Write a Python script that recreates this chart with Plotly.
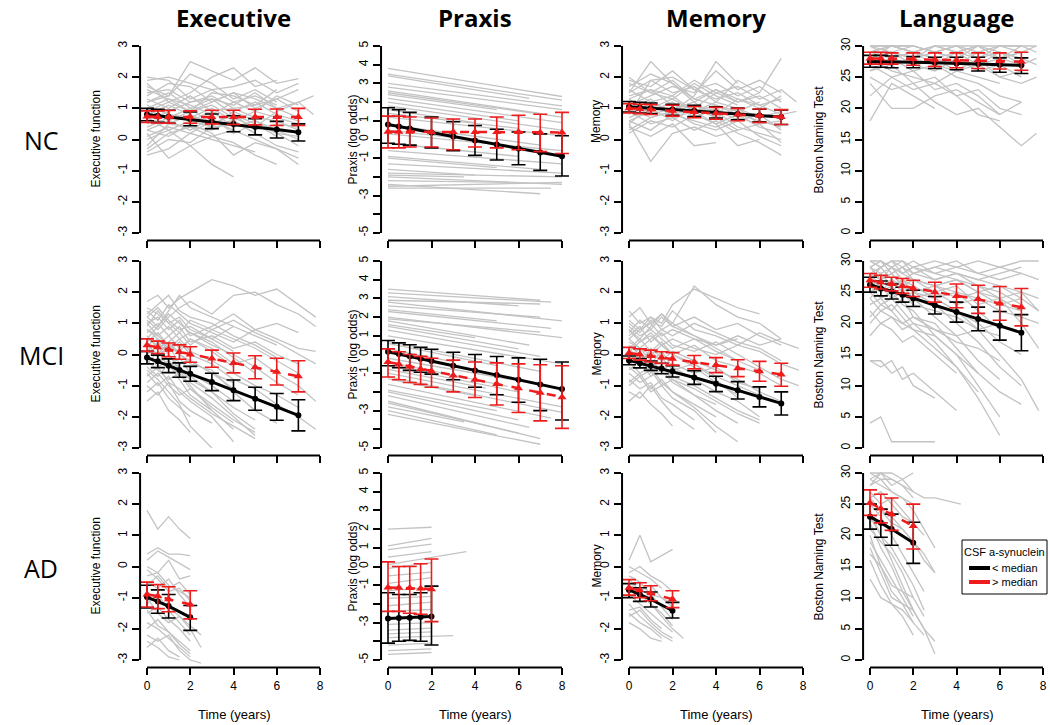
import plotly.graph_objects as go

# ---------------------------------------------------------------- data ----
ROWS = ["NC", "MCI", "AD"]
COLS = ["Executive", "Praxis", "Memory", "Language"]
YTITLES = ["Executive function", "Praxis (log odds)", "Memory", "Boston Naming Test"]
LEGEND_TITLE = "CSF a-synuclein"
LEGEND_LABELS = ["< median", "> median"]
X_TICKS = [0, 2, 4, 6, 8]
X_LABEL = "Time (years)"

EXEC_TICKS = [-3, -2, -1, 0, 1, 2, 3]
EXEC_TICKTEXT = ["-3", "-2", "-1", "0", "1", "2", "3"]
PRAXIS_TICKS = [-5, -4, -3, -2, -1, 0, 1, 2, 3, 4, 5]
PRAXIS_TICKTEXT = ["-5", "", "-3", "", "-1", "0", "1", "2", "3", "4", "5"]
MEMORY_TICKS = [-3, -2, -1, 0, 1, 2, 3]
MEMORY_TICKTEXT = ["-3", "-2", "-1", "0", "1", "2", "3"]
LANG_TICKS = [0, 5, 10, 15, 20, 25, 30]
LANG_TICKTEXT = ["0", "5", "10", "15", "20", "25", "30"]

# visit grids of the individual (grey) trajectories
NC_VISITS = [0, 1, 2, 3, 4, 5, 6, 7, 7.7]
MCI_VISITS = [0, 0.5, 1, 1.5, 2, 3, 4, 5, 6, 7, 7.8]
AD_VISITS = [0, 0.5, 1, 1.5, 2, 2.5, 3, 4.2]

NC_EXEC_GRAY = [
    [1.9, 2.0, 1.8, 1.6, 1.7, 1.9, 1.5, 1.8],
    [1.2, 1.4, 2.5, 2.2, 1.9, 2.3, 1.8, 1.95],
    [0.5, 0.8, 0.6, 0.9, 1.0, 0.7, 0.6, 0.3],
    [-0.5, -0.3, 0.2, 0.0, -0.2, -0.4],
    [0.2, -0.6, -0.2, 0.1, 0.3],
    [1.0, 1.3, 1.1, 0.8, 1.2, 0.9, 1.4, 1.1],
    [0.8, 0.5, 0.4, 0.1, -0.1, -0.5, -0.8],
    [1.5, 1.6, 1.2, 1.4, 1.0, 1.1, 1.3, 0.9],
    [0.0, 0.3, -0.2, -0.8, -1.2],
    [1.8, 1.2, 1.5, 2.0, 2.3, 1.7, 1.9],
    [0.6, 0.9, 1.2, 1.3, 0.8, 0.5, 0.2, -0.2],
    [0.3, 0.1, 0.5, 0.2, -0.5, -0.1, -0.3, -0.6],
    [1.1, 0.8, 0.7, 1.0, 0.6, 0.9, 0.7, 0.5],
    [-0.3, 0.2, 0.4, 0.3, 0.6, 0.2],
    [0.9, 1.2, 0.9, 1.5, 1.4, 1.1, 1.6],
    [1.4, 1.8, 1.7, 1.2, 1.5, 1.3, 1.0, 0.7],
    [0.1, 0.4, 0.2, 0.6, 0.3, 0.0, -0.3, -0.8],
    [0.7, 0.3, 0.6, 0.4, 0.9, 1.2, 0.8, 0.6],
    [2.0, 1.9, 1.3, 1.6, 1.2, 1.4, 1.1],
    [1.3, 1.0, 1.4, 0.9, 0.4, 0.6, 0.2, 0.1],
    [-0.4, 0.0, -0.1, 0.4, 0.5],
    [0.4, 0.7, 1.0, 0.5, 0.8, 0.3, 0.5, 0.4],
    [1.6, 1.3, 0.9, 1.1, 0.7, 0.4, 0.9, 1.2, 1.4],
    [1.0, 0.6, 0.9, 1.2, 1.5, 1.0, 1.3, 1.6],
    [0.3, 0.6, 0.3, 0.7, 0.2, 0.5, 0.1],
    [-0.2, 0.5, 0.8, 0.4, 0.9, 0.6, 0.3, 0.0],
    [1.7, 1.4, 2.1, 1.8, 1.3, 1.6, 1.2],
    [0.8, 1.1, 0.8, 0.5, 0.6, 0.2, -0.2, -0.4],
    [1.2, 1.5, 1.0, 1.3, 1.1, 1.5, 1.0, 1.2, 0.8],
]
NC_MEM_GRAY = [
    [1.5, 2.5, 1.8, 1.2, 1.6, 1.3, 1.0, 1.4],
    [0.5, -0.7, 0.2, 0.4, 0.1, 0.3],
    [1.0, 1.2, 0.9, 1.4, 2.5, 1.8],
    [0.8, 1.9, 1.5, 1.7, 1.2, 1.9, 1.5, 2.6],
    [1.2, 1.0, 1.3, 0.9, 1.1, 0.8, 0.6, 0.4],
    [0.2, 0.6, 0.4, 0.8, 0.5, -0.2, 0.0],
    [1.9, 1.7, 2.2, 1.6, 1.8, 1.4, 1.7, 1.2],
    [0.9, 0.5, 0.7, 0.3, 0.6, 0.2, -0.1, -0.5],
    [1.4, 1.6, 1.1, 1.0, 1.5, 1.2, 1.4, 1.0],
    [0.6, 0.9, 1.2, 0.7, 1.0, 0.6, 0.8, 0.3],
    [1.7, 2.1, 1.8, 1.3, 1.1, 0.9, 1.2],
    [0.4, 0.1, 0.5, -0.2, -0.1],
    [1.1, 1.4, 1.7, 1.5, 2.2, 1.6, 1.9, 1.5],
    [0.7, 1.0, 0.6, 1.1, 0.9, 0.4, 0.2, 0.0],
    [1.3, 0.8, 1.0, 1.2, 0.7, 1.0, 0.5],
    [2.0, 1.5, 1.3, 1.8, 1.4, 1.1],
    [0.3, 0.7, 0.9, 0.5, 0.3, 0.6, 0.1, -0.2],
    [1.6, 1.2, 1.4, 0.9, 1.2, 1.0, 0.7, 0.9],
    [1.0, 0.7, 0.9, 1.1, 0.8, 1.3, 1.1, 0.8, 0.9],
    [0.5, 1.1, 0.8, 0.6, 0.4, 0.7, 0.5, 0.6],
    [1.3, 1.6, 1.4, 1.9, 1.5, 1.7, 1.3, 1.6, 1.2],
    [0.9, 1.3, 0.7, 0.9, 0.5, 0.8, 0.4, 0.2],
    [1.8, 1.5, 1.9, 1.3, 1.6, 1.2, 1.5],
    [0.6, 0.3, 0.8, 1.0, 0.7, 0.3, 0.5, -0.1],
    [1.5, 1.9, 2.0, 1.6, 1.3, 1.5, 1.1, 1.3],
]
NC_LANG_GRAY = [
    [30, 30, 29, 30, 30, 29, 30, 30, 29],
    [29, 30, 30, 29, 28, 30, 29, 28],
    [28, 29, 27, 28, 29, 27, 28, 29],
    [27, 28, 29, 28, 26, 27, 25, 26],
    [30, 29, 28, 30, 29, 30, 28, 27],
    [26, 28, 27, 26, 28, 26, 27, 25],
    [18, 24, 22, 20],
    [25, 23, 24, 21, 19, 20, 17, 14, 16],
    [28, 26, 25, 24, 22, 23, 20, 19],
    [24, 20, 20, 22, 23, 21, 19],
    [29, 28, 26, 27, 25, 24, 22, 21],
    [27, 25, 26, 23, 24, 22, 19, 21],
    [30, 30, 30, 29, 30, 30, 30, 30, 30],
    [29, 29, 28, 29, 30, 28, 29, 27, 28],
    [26, 27, 24, 25, 22, 19, 18],
    [28, 27, 28, 27, 26, 28, 25, 24, 25],
    [22, 25, 23, 24, 26, 25, 24],
    [30, 28, 29, 28, 27, 29, 28, 30],
    [27, 29, 30, 29, 28, 27, 29, 28, 27],
    [29, 30, 29, 30, 29, 28, 30, 29, 30],
    [28, 30, 29, 27, 29, 30, 28, 29],
]
MCI_EXEC_GRAY = [
    [1.7, 1.9, 1.5, 1.8, 2.0, 2.4, 2.2, 1.9, 2.1, 1.6, 1.2],
    [1.2, 0.9, 1.4, 1.9, 1.5, 1.2, 0.9],
    [0.5, 0.3, -0.2, -0.5, -1.0, -1.8, -2.4],
    [-0.5, -0.8, -1.2, -1.6, -2.3, -3.0],
    [0.8, 0.6, 0.9, 0.5, 0.7, 0.3, 0.0, -0.4, -0.9, -1.3],
    [0.0, -0.4, -0.2, -0.7, -0.9, -1.4, -2.0, -2.6],
    [1.0, 1.2, 0.8, 1.1, 0.6, 0.9, 1.3, 0.8, 0.5, 0.2, 0.1],
    [-1.0, -1.3, -0.9, -1.5, -1.8, -2.2],
    [0.3, 0.5, 0.1, 0.4, 0.0, -0.3, -0.8, -1.1, -1.6, -2.0, -2.4],
    [1.4, 1.1, 1.6, 1.3, 1.0, 0.7, 0.4, 0.8, 1.0, 0.7],
    [-0.3, 0.1, -0.4, -0.1, -0.6, -1.0, -1.5],
    [0.6, 0.2, 0.4, 0.0, -0.3, -0.5, -1.2, -1.8, -2.2],
    [-1.5, -1.2, -1.8, -2.1, -2.5],
    [0.9, 1.4, 1.0, 0.7, 1.1, 0.8, 0.5, 0.2, -0.2, -0.6],
    [0.2, -0.1, 0.3, -0.3, -0.2, -0.6, -0.9],
    [-0.7, -0.4, -0.9, -1.1, -1.4, -1.9, -2.3, -2.7],
    [1.1, 0.8, 1.2, 1.5, 1.7, 1.3, 1.9, 2.0, 1.6, 1.3, 0.9],
    [0.4, 0.7, 0.3, 0.1, 0.5, 0.2, -0.3, -0.1, -0.6, -1.0, -1.5],
    [-0.2, -0.5, -0.8, -0.6, -1.1, -1.6, -2.1, -2.5],
    [0.7, 1.0, 0.6, 0.9, 0.4, 0.6, 0.2, 0.4, 0.0, -0.3],
    [-1.2, -0.9, -1.4, -1.7, -2.0],
    [1.5, 1.3, 1.0, 1.2, 0.8, 0.5, 0.9, 0.6, 0.3],
    [0.1, 0.4, 0.0, -0.4, -0.7, -1.2, -1.7, -2.1],
    [-0.4, -0.7, -0.3, -0.8, -1.3, -1.8],
    [0.0, 0.3, 0.6, 0.2, 0.5, 0.1, -0.4],
    [1.3, 1.6, 1.9, 1.4, 1.2, 1.0, 0.6, 0.3, -0.1],
    [0.5, 0.9, 1.3, 1.0, 0.7, 0.4, -0.1, -0.6],
    [-0.9, -0.6, -1.0, -1.3, -1.1, -1.7, -2.2],
    [1.2, 1.5, 1.1, 0.8, 0.9, 0.5, 0.1],
    [-0.1, -0.3, 0.0, -0.5, -0.8, -1.2, -1.9, -2.4],
    [0.8, 0.5, 0.2, 0.5, 0.1, -0.2, -0.6, -1.0, -1.3, -1.7],
    [-0.6, -1.0, -0.7, -1.2, -1.5, -2.0, -2.8],
    [0.3, 0.0, 0.4, 0.7, 0.3, 0.8, 1.1, 0.7, 0.4, 0.0, -0.3],
    [1.0, 0.6, 0.3, 0.0, -0.2, -0.6, -1.1],
]
MCI_MEM_GRAY = [
    [1.4, 1.0, 1.2, 0.8, 1.0, 2.2, 1.6, 1.2, 1.0, 0.5],
    [0.5, 0.8, 1.2, 1.0, 1.6, 2.1, 1.8, 1.5, 1.3],
    [-0.2, -0.6, -0.4, -0.9, -1.2, -1.7, -2.3, -2.8],
    [0.8, 0.4, 0.6, 0.3, 0.0, -0.3, -0.8, -1.4],
    [-0.8, -1.1, -0.9, -1.4, -1.6, -2.1],
    [0.2, 0.5, 0.1, 0.4, 0.0, 0.3, -0.2, -0.4, -0.6, -1.0],
    [1.0, 0.7, 1.1, 0.9, 1.4, 0.8, 0.6, 0.3, 0.7, 0.4, 0.2],
    [-0.5, -0.2, -0.7, -0.5, -0.9, -1.3, -1.6],
    [0.3, 0.0, -0.3, 0.1, -0.4, -0.8, -1.2, -1.5, -2.0],
    [-1.2, -1.4, -1.0, -1.5, -1.9, -2.4],
    [0.6, 0.9, 0.4, 0.7, 0.3, 0.1, 0.4, 0.0, -0.4, -0.8, -1.0],
    [-0.4, -0.7, -0.5, -1.0, -0.8, -1.3, -1.8, -2.2],
    [1.2, 1.5, 1.0, 1.3, 0.9, 1.2, 0.8, 1.0, 0.6, 0.3],
    [0.0, -0.3, 0.2, -0.1, -0.5, -0.3, -0.7, -1.0, -1.3],
    [-0.9, -0.6, -1.1, -0.8, -1.2, -1.6, -2.0],
    [0.4, 0.2, 0.5, 0.8, 0.6, 1.0, 0.7, 0.4, 0.2, -0.2],
    [-0.1, 0.2, -0.2, -0.5, -0.3, -0.6, -0.4, -0.9, -1.1],
    [0.9, 0.6, 0.8, 0.5, 0.2, 0.5, 0.1, -0.2, -0.5],
    [-0.6, -0.9, -0.7, -0.4, -0.8, -1.1, -1.5, -1.9, -2.2],
    [0.1, 0.4, 0.7, 0.3, 0.5, 0.2, 0.0, 0.3, 0.1, -0.3, -0.5],
    [-1.5, -1.2, -1.6, -1.9, -2.3],
    [0.7, 1.1, 0.8, 1.2, 0.9, 0.6, 0.3, 0.5],
    [0.8, 0.5, 0.9, 1.3, 1.0, 0.6, 0.2, -0.2],
    [-0.3, -0.1, -0.6, -0.4, -0.7, -1.0, -1.4, -1.8, -2.1],
    [0.5, 0.2, 0.0, 0.3, 0.0, -0.4, -0.9, -1.3],
    [1.1, 0.8, 1.0, 0.6, 0.8, 0.5, 0.3, 0.6, 0.3, 0.5],
    [-1.0, -0.7, -1.2, -1.0, -1.4, -1.8, -2.5],
    [0.2, -0.2, 0.1, -0.2, 0.1, -0.2, -0.5, -0.8, -1.2, -1.5],
]
MCI_LANG_GRAY = [
    [30, 29, 30, 30, 29, 30, 29, 30, 29, 30, 30],
    [29, 30, 28, 29, 30, 28, 29, 28, 27, 28],
    [28, 27, 29, 28, 27, 26, 27, 25, 26, 24],
    [27, 28, 26, 27, 25, 24, 22, 20, 17, 15],
    [26, 24, 25, 23, 22, 18, 15, 12, 9, 7],
    [25, 26, 24, 25, 23, 22, 21, 19, 20],
    [24, 22, 23, 21, 19, 16, 13, 8, 2],
    [14, 14, 12, 13, 10, 8],
    [14, 13, 14, 11, 12, 9, 6],
    [4, 5, 1, 1, 1, 1],
    [29, 28, 29, 27, 28, 29, 28, 27, 26, 25, 24],
    [28, 29, 27, 26, 27, 25, 26, 23, 24, 22],
    [23, 24, 22, 20, 21, 19, 17, 16, 14],
    [27, 25, 26, 24, 25, 23, 20, 17, 13, 10],
    [22, 20, 21, 19, 20, 19, 18, 19, 18],
    [30, 30, 29, 30, 28, 29, 30, 28, 29, 28, 27],
    [26, 27, 28, 26, 24, 25, 23, 24, 22, 21, 20],
    [21, 23, 22, 24, 21, 20, 16, 12],
    [28, 26, 27, 25, 24, 21, 18, 14, 11],
    [29, 27, 28, 29, 27, 26, 27, 25, 23, 24, 22],
    [25, 23, 24, 22, 20, 17, 13, 9],
    [27, 29, 30, 28, 29, 27, 28, 27, 28, 29],
    [18, 20, 19, 17, 18, 15, 12],
    [24, 26, 25, 27, 26, 24, 25, 22, 19],
    [30, 29, 30, 29, 28, 27, 28, 26, 24, 20, 16],
    [29, 30, 29, 28, 29, 28, 27, 26, 25, 23],
    [26, 25, 27, 25, 26, 24, 22, 19, 15, 11, 6],
    [28, 27, 28, 26, 27, 26, 25, 24, 23, 22],
    [20, 22, 21, 20, 19, 18, 15, 10, 5],
    [27, 26, 27, 26, 25, 26, 24, 25, 24, 25, 22],
]
AD_EXEC_GRAY = [
    [1.8, 1.2, 1.6, 1.2, 0.9],
    [0.4, 0.6, 0.4, 0.4, 0.35],
    [0.2, 0.5, 0.3, 0.1, -0.1],
    [-0.3, -0.2, -0.6, -0.8, -1.0],
    [-0.8, -1.1, -1.3, -1.6, -1.9, -2.2],
    [-1.2, -0.9, -1.4, -1.8, -2.2],
    [-1.8, -2.0, -2.3, -2.6, -2.9],
    [-2.2, -2.4, -2.2, -2.7, -3.0, -3.1],
    [-0.5, -0.7, -0.4, -0.9, -1.3],
    [-1.5, -1.3, -1.7, -2.0, -2.4],
    [-2.6, -2.3, -2.7, -2.9],
    [-0.1, -0.4, -0.8, -0.7, -1.1],
    [-1.0, -1.5, -1.8, -1.6, -2.0, -2.6],
    [-2.0, -1.7, -2.1, -2.5, -2.8],
    [-0.6, -0.3, -0.7, -0.5, -0.9],
    [-1.4, -1.9, -2.1, -2.4, -2.7],
    [0.0, -0.2, 0.2, -0.4, -0.3],
    [-2.4, -2.6, -2.9, -3.0],
]
AD_MEM_GRAY = [
    [0.2, 1.0, 0.15, 0.35, 0.55],
    [0.0, -0.2, -0.4, -0.7],
    [-0.3, -0.5, -0.9, -1.0, -1.2],
    [-0.6, -0.9, -1.2, -1.5, -1.9],
    [-0.9, -1.2, -1.5, -1.8, -2.1],
    [-1.2, -1.6, -1.9, -2.2, -2.4],
    [-1.5, -1.8, -2.0, -2.3],
    [-1.8, -2.0, -2.3, -2.4],
    [-0.4, -0.8, -0.6, -1.0, -1.3],
    [-1.0, -0.8, -1.2, -1.6, -2.0, -2.3],
    [-0.2, 0.0, -0.3, -0.5, -0.8],
    [-1.4, -1.3, -1.7, -2.0],
    [-0.7, -0.5, -0.9, -1.3, -1.7],
    [-1.6, -1.4, -1.8, -2.1, -2.3],
]
AD_LANG_GRAY = [
    [30, 30, 30, 29, 30],
    [29, 30, 28, 29, 27, 26, 26, 25],
    [28, 29, 27, 26, 25],
    [27, 25, 26, 24, 22],
    [26, 24, 22, 21, 19, 17, 14],
    [25, 23, 20, 17, 14, 11],
    [24, 20, 16, 12, 8, 5, 1],
    [23, 20, 18, 15, 12, 8],
    [22, 18, 15, 11, 8, 5, 3],
    [21, 19, 17, 14, 10],
    [20, 15, 11, 9, 6],
    [19, 16, 13, 10, 7],
    [18, 14, 10, 9, 8],
    [17, 15, 12, 11, 10, 7],
    [16, 12, 9, 7, 4],
    [29, 28, 27, 26, 24, 21, 18],
    [30, 29, 29, 28, 27],
    [26, 27, 25, 23, 22, 20],
    [13, 10, 9, 8, 6, 4],
    [28, 30, 29, 28, 26],
    [22, 24, 23, 21, 19, 16, 14],
]
# praxis: individual fitted straight lines [t_start, t_end, y_start, y_end]
NC_PRAXIS_GRAY = [
    [0, 8, 3.8, 2.3], [0, 8, 3.5, 2.1], [0, 6.5, 3.4, 2.2], [0, 8, 2.8, 1.6],
    [0, 7, 2.6, 1.4], [0, 5, 2.4, 1.6], [0, 8, 2.2, 0.9], [0, 6, 2.0, 1.0],
    [0, 8, 1.8, 0.5], [0, 4, 1.6, 0.9], [0, 8, 1.2, 0.2], [0, 7, 0.8, -0.3],
    [0, 3, 0.5, 0.1], [0, 8, 0.3, -0.6], [0, 6, -0.2, -0.9], [0, 8, -0.6, -1.3],
    [0, 5, -1.0, -1.5], [0, 8, -1.3, -1.8], [0, 4, -1.6, -1.9], [0, 8, -1.8, -2.0],
    [0, 6, -2.2, -2.3], [0, 7, -2.4, -2.9], [0, 8, -2.5, -2.3], [0, 3.5, -1.9, -2.0],
    [0, 7.5, -2.6, -2.6], [0, 8, 3.0, 1.8], [0, 8, 2.5, 1.2], [0, 7, -0.9, -1.6],
    [0, 6, 1.4, 0.6], [0, 8, -2.0, -2.4],
]
MCI_PRAXIS_GRAY = [
    [0, 7, 3.5, 2.9], [0, 7.5, 3.3, 2.8], [0, 6, 3.1, 2.6], [0, 8, 2.8, 1.8],
    [0, 7, 2.6, 2.0], [0, 5, 2.4, 1.8], [0, 8, 2.0, 0.9], [0, 6.5, 1.8, 0.5],
    [0, 4, 1.6, 0.9], [0, 7, 1.3, -0.1], [0, 8, 1.0, -0.5], [0, 5, 0.6, -0.6],
    [0, 3, 0.3, -0.4], [0, 7, -0.2, -1.6], [0, 6, -0.6, -2.0], [0, 8, -1.0, -2.8],
    [0, 4, -1.3, -2.2], [0, 7.5, -1.6, -3.4], [0, 5, -1.9, -3.0], [0, 6.5, -2.2, -3.9],
    [0, 7, -2.5, -4.5], [0, 3.5, -2.8, -3.6], [0, 5, -3.0, -4.3], [0, 7, -3.2, -4.8],
    [0, 6, -2.0, -3.5], [0, 7, 2.9, 2.7], [0, 7.5, 2.3, 1.4], [0, 6, 1.5, 0.3],
    [0, 7, 0.7, -0.9], [0, 5.5, -0.4, -1.7], [0, 8, -1.2, -3.1], [0, 6, -2.6, -4.2],
    [0, 4.5, -0.8, -1.8], [0, 7, 1.9, 1.2],
]
AD_PRAXIS_GRAY = [
    [0, 2, 2.0, 2.1], [0, 2, 1.1, 1.5], [0, 2, 0.9, 1.2], [0, 2, 0.5, 0.8],
    [0, 3.6, 0.1, 0.8], [0, 2, -0.1, 0.2], [0, 2, -0.5, -0.3], [0, 2, -0.9, -0.6],
    [0, 2, -1.3, -1.1], [0, 2, -1.7, -1.6], [0, 2, -2.1, -1.9], [0, 2, -2.4, -2.3],
    [0, 2, -2.8, -2.6], [0, 2, -3.1, -3.0], [0, 2, -3.4, -3.3], [0, 3, -3.8, -3.7],
    [0, 2, -4.2, -4.1], [0, 2, -4.5, -4.4], [0, 2, -4.7, -4.6], [0, 2, -3.6, -3.5],
]

# group means (< median black, > median red) with error-bar limits
NC_T = [0, 0.5, 1, 2, 3, 4, 5, 6, 7]
NC_T_PRAXIS = [0, 0.5, 1, 2, 3, 4, 5, 6, 7, 8]
MCI_T = [0, 0.5, 1, 1.5, 2, 3, 4, 5, 6, 7]
MCI_T_PRAXIS = [0, 0.5, 1, 1.5, 2, 3, 4, 5, 6, 7, 8]
AD_T = [0, 0.5, 1, 2]
AD_T_PRAXIS = [0, 0.5, 1, 1.5, 2]

NC_EXEC_LO_MEAN = [0.80, 0.76, 0.73, 0.66, 0.58, 0.50, 0.41, 0.32, 0.23]
NC_EXEC_LO_UP = [1.00, 0.97, 0.94, 0.88, 0.82, 0.76, 0.67, 0.58, 0.50]
NC_EXEC_LO_DN = [0.60, 0.55, 0.52, 0.44, 0.35, 0.25, 0.15, 0.05, -0.05]
NC_EXEC_HI_MEAN = [0.74, 0.72, 0.72, 0.72, 0.72, 0.72, 0.72, 0.72, 0.72]
NC_EXEC_HI_UP = [0.92, 0.92, 0.93, 0.92, 0.94, 0.94, 0.97, 0.98, 1.00]
NC_EXEC_HI_DN = [0.55, 0.53, 0.52, 0.52, 0.50, 0.48, 0.47, 0.45, 0.45]

NC_PRAXIS_LO_MEAN = [0.80, 0.70, 0.59, 0.38, 0.16, -0.05, -0.27, -0.48, -0.69, -0.90]
NC_PRAXIS_LO_UP = [1.70, 1.60, 1.45, 1.20, 0.95, 0.75, 0.55, 0.40, 0.30, 0.20]
NC_PRAXIS_LO_DN = [-0.20, -0.25, -0.30, -0.45, -0.60, -0.85, -1.10, -1.35, -1.65, -1.95]
NC_PRAXIS_HI_MEAN = [0.42, 0.42, 0.42, 0.40, 0.40, 0.40, 0.40, 0.40, 0.38, 0.38]
NC_PRAXIS_HI_UP = [1.25, 1.25, 1.20, 1.15, 1.10, 1.10, 1.20, 1.30, 1.35, 1.45]
NC_PRAXIS_HI_DN = [-0.45, -0.45, -0.40, -0.40, -0.55, -0.40, -0.45, -0.55, -0.65, -0.75]

NC_MEM_LO_MEAN = [1.05, 1.02, 1.00, 0.96, 0.92, 0.87, 0.82, 0.77, 0.72]
NC_MEM_LO_UP = [1.22, 1.19, 1.17, 1.13, 1.10, 1.05, 1.01, 0.97, 0.95]
NC_MEM_LO_DN = [0.88, 0.85, 0.83, 0.78, 0.74, 0.69, 0.63, 0.57, 0.48]
NC_MEM_HI_MEAN = [1.00, 0.98, 0.96, 0.92, 0.88, 0.84, 0.80, 0.76, 0.72]
NC_MEM_HI_UP = [1.15, 1.13, 1.12, 1.10, 1.06, 1.03, 1.00, 0.98, 0.96]
NC_MEM_HI_DN = [0.85, 0.83, 0.80, 0.75, 0.70, 0.65, 0.60, 0.55, 0.48]

NC_LANG_LO_MEAN = [27.5, 27.5, 27.4, 27.4, 27.3, 27.2, 27.1, 27.0, 26.9]
NC_LANG_LO_UP = [28.5, 28.5, 28.4, 28.3, 28.2, 28.2, 28.2, 28.1, 28.1]
NC_LANG_LO_DN = [26.6, 26.6, 26.5, 26.5, 26.4, 26.2, 26.0, 25.8, 25.6]
NC_LANG_HI_MEAN = [28.0, 28.0, 28.0, 27.9, 27.8, 27.7, 27.7, 27.6, 27.5]
NC_LANG_HI_UP = [29.0, 29.0, 28.9, 28.9, 28.9, 28.9, 28.9, 28.9, 29.0]
NC_LANG_HI_DN = [27.1, 27.1, 27.1, 26.9, 26.7, 26.5, 26.4, 26.3, 26.1]

MCI_EXEC_LO_MEAN = [-0.10, -0.22, -0.36, -0.50, -0.62, -0.88, -1.15, -1.42, -1.68, -1.95]
MCI_EXEC_LO_UP = [0.10, -0.02, -0.14, -0.27, -0.38, -0.60, -0.82, -1.05, -1.25, -1.45]
MCI_EXEC_LO_DN = [-0.30, -0.42, -0.58, -0.73, -0.86, -1.16, -1.48, -1.79, -2.11, -2.45]
MCI_EXEC_HI_MEAN = [0.30, 0.23, 0.15, 0.08, 0.00, -0.13, -0.27, -0.41, -0.55, -0.70]
MCI_EXEC_HI_UP = [0.50, 0.43, 0.37, 0.31, 0.25, 0.14, 0.05, -0.04, -0.12, -0.20]
MCI_EXEC_HI_DN = [0.10, 0.03, -0.07, -0.15, -0.25, -0.41, -0.59, -0.78, -0.98, -1.20]

MCI_PRAXIS_LO_MEAN = [0.15, 0.03, -0.10, -0.23, -0.35, -0.60, -0.85, -1.10, -1.35, -1.60, -1.85]
MCI_PRAXIS_LO_UP = [0.75, 0.62, 0.52, 0.38, 0.28, 0.12, 0.00, -0.11, -0.18, -0.25, -0.40]
MCI_PRAXIS_LO_DN = [-0.60, -0.70, -0.85, -0.95, -1.05, -1.35, -1.75, -2.15, -2.55, -3.00, -3.50]
MCI_PRAXIS_HI_MEAN = [-0.40, -0.52, -0.65, -0.78, -0.90, -1.12, -1.35, -1.58, -1.80, -2.05, -2.28]
MCI_PRAXIS_HI_UP = [0.30, 0.15, 0.00, -0.10, -0.20, -0.30, -0.40, -0.45, -0.50, -0.55, -0.60]
MCI_PRAXIS_HI_DN = [-1.20, -1.35, -1.50, -1.60, -1.75, -2.00, -2.30, -2.70, -3.10, -3.55, -3.95]

MCI_MEM_LO_MEAN = [-0.19, -0.28, -0.36, -0.45, -0.54, -0.74, -0.94, -1.15, -1.36, -1.57]
MCI_MEM_LO_UP = [-0.05, -0.13, -0.21, -0.28, -0.36, -0.52, -0.70, -0.87, -1.04, -1.20]
MCI_MEM_LO_DN = [-0.33, -0.43, -0.51, -0.62, -0.72, -0.96, -1.19, -1.43, -1.68, -1.94]
MCI_MEM_HI_MEAN = [0.05, 0.00, -0.05, -0.10, -0.14, -0.24, -0.34, -0.44, -0.54, -0.64]
MCI_MEM_HI_UP = [0.23, 0.18, 0.14, 0.09, 0.06, -0.03, -0.10, -0.17, -0.22, -0.28]
MCI_MEM_HI_DN = [-0.13, -0.18, -0.24, -0.29, -0.34, -0.46, -0.58, -0.71, -0.86, -1.02]

MCI_LANG_LO_MEAN = [26.2, 25.6, 25.1, 24.6, 24.0, 22.9, 21.8, 20.7, 19.6, 18.5]
MCI_LANG_LO_UP = [27.4, 26.8, 26.3, 25.8, 25.3, 24.3, 23.4, 22.6, 21.9, 21.4]
MCI_LANG_LO_DN = [25.0, 24.4, 23.9, 23.4, 22.7, 21.5, 20.2, 18.8, 17.3, 15.6]
MCI_LANG_HI_MEAN = [26.9, 26.6, 26.3, 26.0, 25.6, 25.0, 24.4, 23.9, 23.2, 22.6]
MCI_LANG_HI_UP = [28.0, 27.7, 27.4, 27.2, 26.9, 26.6, 26.3, 26.1, 25.9, 25.6]
MCI_LANG_HI_DN = [25.8, 25.5, 25.2, 24.8, 24.3, 23.4, 22.5, 21.6, 20.5, 19.6]

AD_EXEC_LO_MEAN = [-0.98, -1.12, -1.27, -1.63]
AD_EXEC_LO_UP = [-0.60, -0.75, -0.90, -1.25]
AD_EXEC_LO_DN = [-1.33, -1.50, -1.65, -2.05]
AD_EXEC_HI_MEAN = [-0.90, -0.95, -1.05, -1.22]
AD_EXEC_HI_UP = [-0.50, -0.58, -0.65, -0.78]
AD_EXEC_HI_DN = [-1.30, -1.35, -1.45, -1.68]

AD_PRAXIS_LO_MEAN = [-2.78, -2.75, -2.74, -2.70, -2.68]
AD_PRAXIS_LO_UP = [-1.40, -1.50, -1.50, -1.40, -1.05]
AD_PRAXIS_LO_DN = [-4.10, -4.00, -3.95, -4.00, -4.20]
AD_PRAXIS_HI_MEAN = [-1.12, -1.13, -1.15, -1.18, -1.22]
AD_PRAXIS_HI_UP = [0.25, 0.00, 0.00, 0.15, 0.40]
AD_PRAXIS_HI_DN = [-2.40, -2.40, -2.50, -2.55, -2.95]

AD_MEM_LO_MEAN = [-0.75, -0.90, -1.05, -1.42]
AD_MEM_LO_UP = [-0.55, -0.68, -0.82, -1.15]
AD_MEM_LO_DN = [-1.00, -1.12, -1.30, -1.65]
AD_MEM_HI_MEAN = [-0.68, -0.76, -0.86, -1.05]
AD_MEM_HI_UP = [-0.42, -0.52, -0.62, -0.78]
AD_MEM_HI_DN = [-0.92, -1.00, -1.10, -1.32]

AD_LANG_LO_MEAN = [23.0, 22.0, 21.0, 18.8]
AD_LANG_LO_UP = [25.0, 24.2, 23.4, 22.1]
AD_LANG_LO_DN = [21.0, 19.7, 18.4, 15.5]
AD_LANG_HI_MEAN = [25.2, 24.3, 23.4, 21.5]
AD_LANG_HI_UP = [27.3, 26.6, 26.0, 25.0]
AD_LANG_HI_DN = [23.2, 22.0, 20.8, 17.8]

# ------------------------------------------------------------- layout -----
W, H = 1050, 725
COL_X0 = [147, 388, 629, 870]      # pixel of x = 0
COL_X8 = [320, 562, 803, 1043]     # pixel of x = 8
ROW_TOP = [46, 261, 473]           # pixel of the top y tick
ROW_BOT = [233, 448, 660]          # pixel of the bottom y tick
PAD = 0.04

GRAY = "#c3c3c3"
RED = "#ee1c1c"
AX_FONT = "Liberation Sans, Arial, sans-serif"
TITLE_FONT = "Open Sans, sans-serif"

YSPEC = [
    (EXEC_TICKS, EXEC_TICKTEXT),
    (PRAXIS_TICKS, PRAXIS_TICKTEXT),
    (MEMORY_TICKS, MEMORY_TICKTEXT),
    (LANG_TICKS, LANG_TICKTEXT),
]

PANELS = {
    (0, 0): ("grid", NC_VISITS, NC_EXEC_GRAY, NC_T,
             NC_EXEC_LO_MEAN, NC_EXEC_LO_UP, NC_EXEC_LO_DN,
             NC_EXEC_HI_MEAN, NC_EXEC_HI_UP, NC_EXEC_HI_DN),
    (0, 1): ("line", None, NC_PRAXIS_GRAY, NC_T_PRAXIS,
             NC_PRAXIS_LO_MEAN, NC_PRAXIS_LO_UP, NC_PRAXIS_LO_DN,
             NC_PRAXIS_HI_MEAN, NC_PRAXIS_HI_UP, NC_PRAXIS_HI_DN),
    (0, 2): ("grid", NC_VISITS, NC_MEM_GRAY, NC_T,
             NC_MEM_LO_MEAN, NC_MEM_LO_UP, NC_MEM_LO_DN,
             NC_MEM_HI_MEAN, NC_MEM_HI_UP, NC_MEM_HI_DN),
    (0, 3): ("grid", NC_VISITS, NC_LANG_GRAY, NC_T,
             NC_LANG_LO_MEAN, NC_LANG_LO_UP, NC_LANG_LO_DN,
             NC_LANG_HI_MEAN, NC_LANG_HI_UP, NC_LANG_HI_DN),
    (1, 0): ("grid", MCI_VISITS, MCI_EXEC_GRAY, MCI_T,
             MCI_EXEC_LO_MEAN, MCI_EXEC_LO_UP, MCI_EXEC_LO_DN,
             MCI_EXEC_HI_MEAN, MCI_EXEC_HI_UP, MCI_EXEC_HI_DN),
    (1, 1): ("line", None, MCI_PRAXIS_GRAY, MCI_T_PRAXIS,
             MCI_PRAXIS_LO_MEAN, MCI_PRAXIS_LO_UP, MCI_PRAXIS_LO_DN,
             MCI_PRAXIS_HI_MEAN, MCI_PRAXIS_HI_UP, MCI_PRAXIS_HI_DN),
    (1, 2): ("grid", MCI_VISITS, MCI_MEM_GRAY, MCI_T,
             MCI_MEM_LO_MEAN, MCI_MEM_LO_UP, MCI_MEM_LO_DN,
             MCI_MEM_HI_MEAN, MCI_MEM_HI_UP, MCI_MEM_HI_DN),
    (1, 3): ("grid", MCI_VISITS, MCI_LANG_GRAY, MCI_T,
             MCI_LANG_LO_MEAN, MCI_LANG_LO_UP, MCI_LANG_LO_DN,
             MCI_LANG_HI_MEAN, MCI_LANG_HI_UP, MCI_LANG_HI_DN),
    (2, 0): ("grid", AD_VISITS, AD_EXEC_GRAY, AD_T,
             AD_EXEC_LO_MEAN, AD_EXEC_LO_UP, AD_EXEC_LO_DN,
             AD_EXEC_HI_MEAN, AD_EXEC_HI_UP, AD_EXEC_HI_DN),
    (2, 1): ("line", None, AD_PRAXIS_GRAY, AD_T_PRAXIS,
             AD_PRAXIS_LO_MEAN, AD_PRAXIS_LO_UP, AD_PRAXIS_LO_DN,
             AD_PRAXIS_HI_MEAN, AD_PRAXIS_HI_UP, AD_PRAXIS_HI_DN),
    (2, 2): ("grid", AD_VISITS, AD_MEM_GRAY, AD_T,
             AD_MEM_LO_MEAN, AD_MEM_LO_UP, AD_MEM_LO_DN,
             AD_MEM_HI_MEAN, AD_MEM_HI_UP, AD_MEM_HI_DN),
    (2, 3): ("grid", AD_VISITS, AD_LANG_GRAY, AD_T,
             AD_LANG_LO_MEAN, AD_LANG_LO_UP, AD_LANG_LO_DN,
             AD_LANG_HI_MEAN, AD_LANG_HI_UP, AD_LANG_HI_DN),
}

fig = go.Figure()
layout = dict(
    width=W, height=H, margin=dict(l=0, r=0, t=0, b=0),
    paper_bgcolor="white", plot_bgcolor="white", showlegend=False,
)
shapes, annotations = [], []


def px_x(p):
    return p / W


def px_y(p):
    return 1 - p / H


for r in range(3):
    for c in range(4):
        k = r * 4 + c + 1
        xa = "x" if k == 1 else f"x{k}"
        ya = "y" if k == 1 else f"y{k}"
        ticks, ticktext = YSPEC[c]
        ymin, ymax = ticks[0], ticks[-1]
        yspan = ymax - ymin
        xs_unit = (COL_X8[c] - COL_X0[c]) / 8.0
        dom_x = [px_x(COL_X0[c] - PAD * 8 * xs_unit), px_x(COL_X8[c] + PAD * 8 * xs_unit)]
        ppu = (ROW_BOT[r] - ROW_TOP[r]) / yspan
        dom_y = [px_y(ROW_BOT[r] + PAD * yspan * ppu), px_y(ROW_TOP[r] - PAD * yspan * ppu)]

        layout["xaxis" if k == 1 else f"xaxis{k}"] = dict(
            domain=dom_x, range=[-0.32, 8.32], anchor=ya,
            tickvals=X_TICKS, ticktext=[str(v) for v in X_TICKS],
            ticks="outside", ticklen=7, tickwidth=2, tickcolor="black",
            showticklabels=(r == 2),
            tickfont=dict(family=AX_FONT, size=12, color="black"),
            showgrid=False, zeroline=False, showline=False, fixedrange=True,
        )
        layout["yaxis" if k == 1 else f"yaxis{k}"] = dict(
            domain=dom_y, range=[ymin - PAD * yspan, ymax + PAD * yspan], anchor=xa,
            tickvals=ticks, ticktext=ticktext, tickangle=-90,
            ticks="outside", ticklen=7, tickwidth=2, tickcolor="black",
            tickfont=dict(family=AX_FONT, size=12, color="black"),
            showgrid=False, zeroline=False, showline=False, fixedrange=True,
        )
        # R-style detached axis lines (from first to last tick)
        shapes.append(dict(type="line", xref=xa, yref=f"{ya} domain",
                           x0=X_TICKS[0], x1=X_TICKS[-1], y0=0, y1=0,
                           line=dict(color="black", width=2)))
        shapes.append(dict(type="line", xref=f"{xa} domain", yref=ya,
                           x0=0, x1=0, y0=ymin, y1=ymax,
                           line=dict(color="black", width=2)))

        kind, visits, gray, tmean, lo_m, lo_u, lo_d, hi_m, hi_u, hi_d = PANELS[(r, c)]
        gx, gy = [], []
        if kind == "grid":
            for subj in gray:
                gx += list(visits[:len(subj)]) + [None]
                gy += list(subj) + [None]
        else:
            for t0, t1, y0, y1 in gray:
                gx += [t0, t1, None]
                gy += [y0, y1, None]
        fig.add_trace(go.Scatter(x=gx, y=gy, mode="lines", xaxis=xa, yaxis=ya,
                                 line=dict(color=GRAY, width=1.3),
                                 hoverinfo="skip", showlegend=False))
        fig.add_trace(go.Scatter(
            x=tmean, y=lo_m, mode="lines+markers", xaxis=xa, yaxis=ya,
            name=LEGEND_LABELS[0], showlegend=False,
            line=dict(color="black", width=3),
            marker=dict(symbol="circle", size=6, color="black"),
            error_y=dict(type="data", symmetric=False,
                         array=[u - m for u, m in zip(lo_u, lo_m)],
                         arrayminus=[m - d for m, d in zip(lo_m, lo_d)],
                         color="black", thickness=1.6, width=7),
        ))
        fig.add_trace(go.Scatter(
            x=tmean, y=hi_m, mode="lines+markers", xaxis=xa, yaxis=ya,
            name=LEGEND_LABELS[1], showlegend=False,
            line=dict(color=RED, width=2.5, dash="dash"),
            marker=dict(symbol="triangle-up", size=8, color=RED),
            error_y=dict(type="data", symmetric=False,
                         array=[u - m for u, m in zip(hi_u, hi_m)],
                         arrayminus=[m - d for m, d in zip(hi_m, hi_d)],
                         color=RED, thickness=1.6, width=7),
        ))

        # y-axis title
        ycen = (ROW_TOP[r] + ROW_BOT[r]) / 2
        if c == 2 and r == 0:
            ycen = 122
        ytitle_x = [95, 352, 596, 818][c]
        annotations.append(dict(
            text=YTITLES[c], x=px_x(ytitle_x), y=px_y(ycen), xref="paper", yref="paper",
            textangle=-90, showarrow=False, xanchor="center", yanchor="middle",
            font=dict(family=AX_FONT, size=12, color="black")))

# column titles and row labels
for c, name in enumerate(COLS):
    annotations.append(dict(
        text=f"<b>{name}</b>", x=px_x((COL_X0[c] + COL_X8[c]) / 2), y=px_y(18),
        xref="paper", yref="paper", showarrow=False, xanchor="center", yanchor="middle",
        font=dict(family=TITLE_FONT, size=24, color="black")))
    annotations.append(dict(
        text=X_LABEL, x=px_x((COL_X0[c] + COL_X8[c]) / 2), y=px_y(714),
        xref="paper", yref="paper", showarrow=False, xanchor="center", yanchor="middle",
        font=dict(family=AX_FONT, size=13, color="black")))
for r, name in enumerate(ROWS):
    annotations.append(dict(
        text=name, x=px_x(41), y=px_y([140, 355, 568][r]),
        xref="paper", yref="paper", showarrow=False, xanchor="center", yanchor="middle",
        font=dict(family=TITLE_FONT, size=25, color="black")))

# legend box (bottom-right panel)
LX0, LX1, LY0, LY1 = 962, 1047, 540, 594
shapes.append(dict(type="rect", xref="paper", yref="paper",
                   x0=px_x(LX0), x1=px_x(LX1), y0=px_y(LY1), y1=px_y(LY0),
                   line=dict(color="black", width=1), fillcolor="white"))
annotations.append(dict(text=LEGEND_TITLE, x=px_x((LX0 + LX1) / 2), y=px_y(552),
                        xref="paper", yref="paper", showarrow=False,
                        xanchor="center", yanchor="middle",
                        font=dict(family=AX_FONT, size=11, color="black")))
for i, (lab, col) in enumerate(zip(LEGEND_LABELS, ["black", RED])):
    yy = [568, 582][i]
    shapes.append(dict(type="line", xref="paper", yref="paper",
                       x0=px_x(969), x1=px_x(990), y0=px_y(yy), y1=px_y(yy),
                       line=dict(color=col, width=4)))
    annotations.append(dict(text=lab, x=px_x(990), y=px_y(yy), xref="paper", yref="paper",
                            showarrow=False, xanchor="left", yanchor="middle",
                            font=dict(family=AX_FONT, size=11, color="black")))

layout["shapes"] = shapes
layout["annotations"] = annotations
fig.update_layout(**layout)
fig.write_html(
    "out.html",
    config={"displayModeBar": False},
    post_script="document.body.style.margin='0';document.body.style.overflow='hidden';",
)
